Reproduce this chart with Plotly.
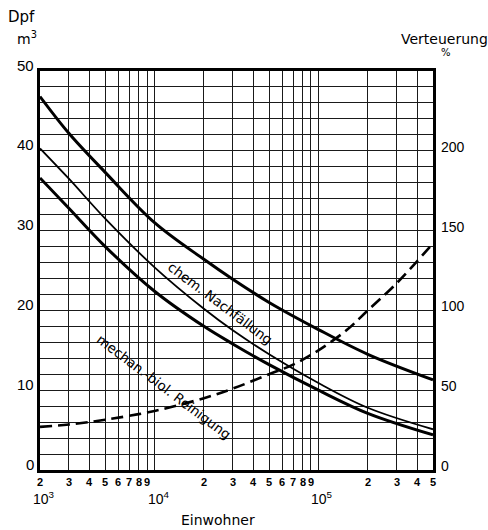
import math
import plotly.graph_objects as go

# ---------------- data ----------------
einwohner = [2e3, 3e3, 5e3, 1e4, 2e4, 3e4, 5e4, 1e5, 2e5, 5e5]
dpf_oben = [46.8, 42.2, 37.3, 31.0, 26.4, 23.9, 21.0, 17.6, 14.5, 11.3]
dpf_mitte = [40.3, 36.5, 31.5, 25.4, 20.2, 17.5, 14.5, 10.9, 7.8, 5.1]
dpf_unten = [36.6, 32.8, 28.0, 22.4, 18.0, 15.8, 13.2, 10.0, 7.1, 4.4]

einwohner_v = [2e3, 3e3, 5e3, 1e4, 2e4, 3e4, 5e4, 7e4, 1e5, 1.5e5, 2e5, 3e5, 5e5]
verteuerung = [27, 28.5, 31.5, 37, 45, 51, 60, 66, 75, 88, 100, 117, 142]

x_grid = [2e3, 3e3, 4e3, 5e3, 6e3, 7e3, 8e3, 9e3, 1e4,
          2e4, 3e4, 4e4, 5e4, 6e4, 7e4, 8e4, 9e4, 1e5,
          2e5, 3e5, 4e5, 5e5]
x_digit_vals = [2e3, 3e3, 4e3, 5e3, 6e3, 7e3, 8e3, 9e3,
                2e4, 3e4, 4e4, 5e4, 6e4, 7e4, 8e4, 9e4,
                2e5, 3e5, 4e5, 5e5]
x_digit_text = ["2", "3", "4", "5", "6", "7", "8", "9",
                "2", "3", "4", "5", "6", "7", "8", "9",
                "2", "3", "4", "5"]
x_pow_vals = [2e3, 1e4, 1e5]
x_pow_text = ["10<sup>3</sup>", "10<sup>4</sup>", "10<sup>5</sup>"]
decades = [1e4, 1e5]

y_left_vals = [0, 10, 20, 30, 40, 50]
y_left_text = ["0", "10", "20", "30", "40", "50"]
y_right_vals = [0, 50, 100, 150, 200]
y_right_text = ["0", "50", "100", "150", "200"]

# ---------------- layout geometry ----------------
W, H = 488, 530
ML, MR, MT, MB = 40, 55, 71, 60
PW, PH = W - ML - MR, H - MT - MB
NUMFONT = "Liberation Sans"
TXTFONT = "DejaVu Sans"


def px(x):
    return (x - ML) / PW


def py(y):
    return (H - MB - y) / PH


fig = go.Figure()
fig.add_trace(go.Scatter(x=einwohner, y=dpf_oben, mode="lines",
                         line=dict(color="black", width=3, shape="spline"),
                         showlegend=False))
fig.add_trace(go.Scatter(x=einwohner, y=dpf_mitte, mode="lines",
                         line=dict(color="black", width=1.8, shape="spline"),
                         showlegend=False))
fig.add_trace(go.Scatter(x=einwohner, y=dpf_unten, mode="lines",
                         line=dict(color="black", width=3, shape="spline"),
                         showlegend=False))
fig.add_trace(go.Scatter(x=einwohner_v, y=verteuerung, mode="lines", yaxis="y2",
                         line=dict(color="black", width=2.6, shape="spline",
                                   dash="12px,6px"),
                         showlegend=False))

ann = []
for v, t in zip(x_digit_vals, x_digit_text):
    ann.append(dict(x=math.log10(v), y=0, xref="x", yref="paper", text="<b>" + t + "</b>",
                    showarrow=False, yanchor="top", yshift=-4,
                    font=dict(family=NUMFONT, size=11, color="black")))
for v, t in zip(x_pow_vals, x_pow_text):
    ann.append(dict(x=math.log10(v), y=0, xref="x", yref="paper", text=t,
                    showarrow=False, yanchor="top", yshift=-17, xshift=4,
                    font=dict(family=NUMFONT, size=14, color="black")))
for v, t in zip(y_left_vals, y_left_text):
    ann.append(dict(x=0, y=v, xref="paper", yref="y", text=t, showarrow=False,
                    xanchor="right", yanchor="middle", xshift=-4, yshift=6,
                    font=dict(family=NUMFONT, size=15, color="black")))
for v, t in zip(y_right_vals, y_right_text):
    ann.append(dict(x=1, y=v, xref="paper", yref="y2", text=t, showarrow=False,
                    xanchor="left", yanchor="middle", xshift=6, yshift=4,
                    font=dict(family=NUMFONT, size=14, color="black")))


def label(x, y, text, size, family=TXTFONT):
    return dict(x=px(x), y=py(y), xref="paper", yref="paper", text=text,
                showarrow=False, xanchor="center", yanchor="middle",
                font=dict(family=family, size=size, color="black"))


ann += [
    label(21, 17, "Dpf", 15),
    label(27, 38, "m<sup>3</sup>", 14),
    label(444, 39, "Verteuerung", 14),
    label(446, 53, "%", 10),
    label(218, 520, "Einwohner", 14),
    dict(x=4.4, y=20.9, xref="x", yref="y", text="chem. Nachfällung",
         showarrow=False, textangle=37,
         font=dict(family=TXTFONT, size=13.5, color="black")),
    dict(x=4.06, y=10.4, xref="x", yref="y", text="mechan.-biol. Reinigung",
         showarrow=False, textangle=37,
         font=dict(family=TXTFONT, size=13.5, color="black")),
]

shapes = [dict(type="line", xref="x", yref="paper", x0=math.log10(d), x1=math.log10(d),
               y0=0, y1=1, line=dict(color="black", width=2.6), layer="below")
          for d in decades]

fig.update_layout(
    width=W, height=H, margin=dict(l=ML, r=MR, t=MT, b=MB),
    paper_bgcolor="white", plot_bgcolor="white",
    annotations=ann, shapes=shapes,
    xaxis=dict(type="log", range=[math.log10(2e3), math.log10(5e5)],
               tickvals=x_grid, showticklabels=False, ticks="",
               showgrid=True, gridcolor="#1a1a1a", gridwidth=1.4,
               showline=True, linecolor="black", linewidth=3, mirror=True,
               zeroline=False),
    yaxis=dict(range=[0, 50], tickvals=list(range(0, 51, 2)), showticklabels=False,
               ticks="", showgrid=True, gridcolor="#1a1a1a", gridwidth=1.4,
               showline=True, linecolor="black", linewidth=3, mirror=True,
               zeroline=False),
    yaxis2=dict(range=[0, 250], overlaying="y", side="right", showgrid=False,
                showticklabels=False, ticks="", zeroline=False, showline=False),
)

fig.write_html("out.html",
               config={"displayModeBar": False},
               post_script="document.body.style.margin='0';"
                           "document.body.style.overflow='hidden';")
